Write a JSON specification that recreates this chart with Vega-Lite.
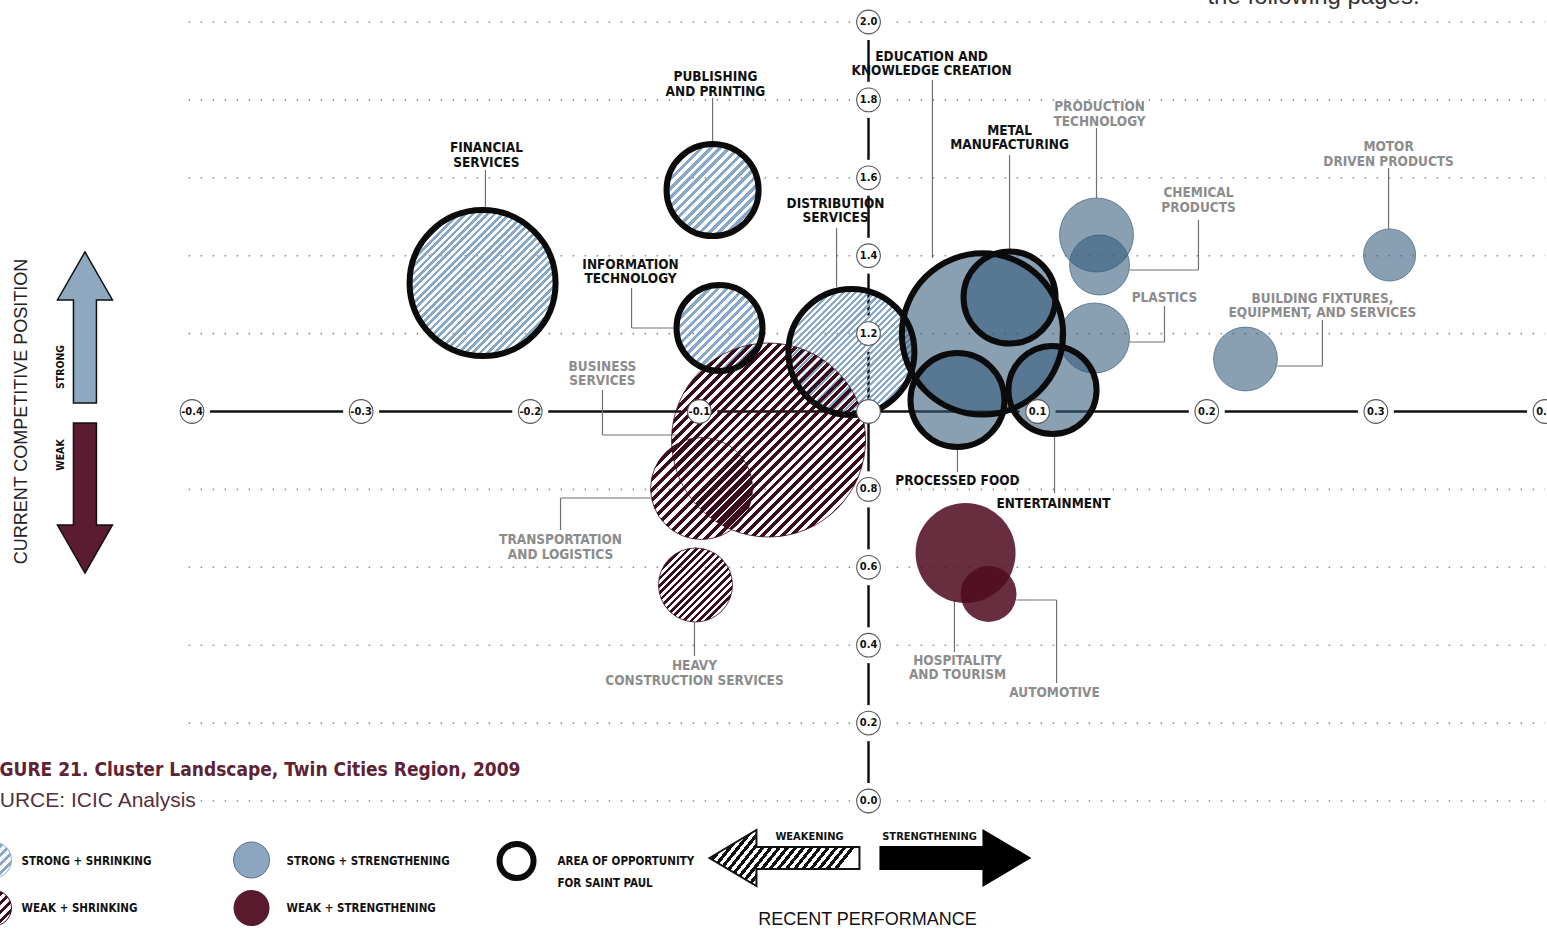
{
"$schema":"https://vega.github.io/schema/vega-lite/v6.json",
"width":1547,"height":930,"autosize":"none","padding":0,"background":"#ffffff",
"config":{"view":{"stroke":null}},
"datasets":{
"clusters":[
{"name":"Financial Services","type":"strong-shrinking","opportunity":"yes","x":-0.2282,"y":1.3299,"jobs":53.3},
{"name":"Publishing and Printing","type":"strong-shrinking","opportunity":"yes","x":-0.0922,"y":1.5687,"jobs":21.2},
{"name":"Information Technology","type":"strong-shrinking","opportunity":"yes","x":-0.0881,"y":1.2144,"jobs":18.5},
{"name":"Distribution Services","type":"strong-shrinking","opportunity":"yes","x":-0.0101,"y":1.1528,"jobs":39.7},
{"name":"Business Services","type":"weak-shrinking","opportunity":"no","x":-0.0591,"y":0.9268,"jobs":94.1},
{"name":"Transportation and Logistics","type":"weak-shrinking","opportunity":"no","x":-0.0987,"y":0.8023,"jobs":26.0},
{"name":"Heavy Construction Services","type":"weak-shrinking","opportunity":"no","x":-0.1023,"y":0.5546,"jobs":13.7},
{"name":"Education and Knowledge Creation","type":"strong-strengthening","opportunity":"yes","x":0.0674,"y":1.199,"jobs":65.0},
{"name":"Metal Manufacturing","type":"strong-strengthening","opportunity":"yes","x":0.0834,"y":1.2927,"jobs":21.2},
{"name":"Processed Food","type":"strong-strengthening","opportunity":"yes","x":0.0526,"y":1.0295,"jobs":22.1},
{"name":"Entertainment","type":"strong-strengthening","opportunity":"yes","x":0.1088,"y":1.0552,"jobs":19.4},
{"name":"Production Technology","type":"strong-strengthening","opportunity":"no","x":0.1348,"y":1.4532,"jobs":13.7},
{"name":"Chemical Products","type":"strong-strengthening","opportunity":"no","x":0.1366,"y":1.3761,"jobs":9.0},
{"name":"Plastics","type":"strong-strengthening","opportunity":"no","x":0.1336,"y":1.1887,"jobs":12.3},
{"name":"Building Fixtures, Equipment, and Services","type":"strong-strengthening","opportunity":"no","x":0.2229,"y":1.1348,"jobs":10.2},
{"name":"Motor Driven Products","type":"strong-strengthening","opportunity":"no","x":0.3081,"y":1.4018,"jobs":6.8},
{"name":"Hospitality and Tourism","type":"weak-strengthening","opportunity":"no","x":0.0574,"y":0.6367,"jobs":25.0},
{"name":"Automotive","type":"weak-strengthening","opportunity":"no","x":0.071,"y":0.5315,"jobs":7.8}
],
"labels":[
{"lines":["FINANCIAL","SERVICES"],"group":"opportunity","x":-0.2259,"y":1.6662},
{"lines":["PUBLISHING","AND PRINTING"],"group":"opportunity","x":-0.0905,"y":1.8485},
{"lines":["EDUCATION AND","KNOWLEDGE CREATION"],"group":"opportunity","x":0.0373,"y":1.8999},
{"lines":["METAL","MANUFACTURING"],"group":"opportunity","x":0.0834,"y":1.7099},
{"lines":["PRODUCTION","TECHNOLOGY"],"group":"other","x":0.1366,"y":1.7715},
{"lines":["MOTOR","DRIVEN PRODUCTS"],"group":"other","x":0.3075,"y":1.6688},
{"lines":["CHEMICAL","PRODUCTS"],"group":"other","x":0.1951,"y":1.5507},
{"lines":["DISTRIBUTION","SERVICES"],"group":"opportunity","x":-0.0195,"y":1.5225},
{"lines":["INFORMATION","TECHNOLOGY"],"group":"opportunity","x":-0.1407,"y":1.3659},
{"lines":["PLASTICS"],"group":"other","x":0.175,"y":1.2811},
{"lines":["BUILDING FIXTURES,","EQUIPMENT, AND SERVICES"],"group":"other","x":0.2684,"y":1.2786},
{"lines":["BUSINESS","SERVICES"],"group":"other","x":-0.1573,"y":1.104},
{"lines":["PROCESSED FOOD"],"group":"opportunity","x":0.0526,"y":0.8113},
{"lines":["ENTERTAINMENT"],"group":"opportunity","x":0.1094,"y":0.7522},
{"lines":["TRANSPORTATION","AND LOGISTICS"],"group":"other","x":-0.1821,"y":0.6598},
{"lines":["HEAVY","CONSTRUCTION SERVICES"],"group":"other","x":-0.1029,"y":0.3363},
{"lines":["HOSPITALITY","AND TOURISM"],"group":"other","x":0.0526,"y":0.3492},
{"lines":["AUTOMOTIVE"],"group":"other","x":0.11,"y":0.267}
],
"leaders":[
{"x":-0.2265,"y":1.62,"x2":-0.2265,"y2":1.525},
{"x":-0.0922,"y":1.8049,"x2":-0.0922,"y2":1.6945},
{"x":0.0378,"y":1.8511,"x2":0.0378,"y2":1.3941},
{"x":0.0834,"y":1.6585,"x2":0.0834,"y2":1.4146},
{"x":0.1348,"y":1.7279,"x2":0.1348,"y2":1.5481},
{"x":0.1951,"y":1.4917,"x2":0.1951,"y2":1.3633},
{"x":0.1951,"y":1.3633,"x2":0.1543,"y2":1.3633},
{"x":0.3075,"y":1.6252,"x2":0.3075,"y2":1.4685},
{"x":-0.0189,"y":1.4711,"x2":-0.0189,"y2":1.3196},
{"x":-0.1401,"y":1.3171,"x2":-0.1401,"y2":1.2144},
{"x":-0.1401,"y":1.2144,"x2":-0.1153,"y2":1.2144},
{"x":0.175,"y":1.2709,"x2":0.175,"y2":1.1784},
{"x":0.175,"y":1.1784,"x2":0.1543,"y2":1.1784},
{"x":0.2684,"y":1.2349,"x2":0.2684,"y2":1.1168},
{"x":0.2684,"y":1.1168,"x2":0.2418,"y2":1.1168},
{"x":-0.1573,"y":1.0552,"x2":-0.1573,"y2":0.9397},
{"x":-0.1573,"y":0.9397,"x2":-0.1118,"y2":0.9397},
{"x":-0.1821,"y":0.6958,"x2":-0.1821,"y2":0.7779},
{"x":-0.1821,"y":0.7779,"x2":-0.1289,"y2":0.7779},
{"x":-0.1029,"y":0.4596,"x2":-0.1029,"y2":0.3723},
{"x":0.0526,"y":0.9012,"x2":0.0526,"y2":0.8447},
{"x":0.11,"y":0.9345,"x2":0.11,"y2":0.7908},
{"x":0.0508,"y":0.516,"x2":0.0508,"y2":0.3825},
{"x":0.1112,"y":0.303,"x2":0.1112,"y2":0.516},
{"x":0.1112,"y":0.516,"x2":0.0875,"y2":0.516}
],
"grid":[
{"x":-0.402,"x2":0.4,"y":0},{"x":-0.402,"x2":0.4,"y":0.2},{"x":-0.402,"x2":0.4,"y":0.4},{"x":-0.402,"x2":0.4,"y":0.6},{"x":-0.402,"x2":0.4,"y":0.8},
{"x":-0.402,"x2":0.4,"y":1.2},{"x":-0.402,"x2":0.4,"y":1.4},{"x":-0.402,"x2":0.4,"y":1.6},{"x":-0.402,"x2":0.4,"y":1.8},{"x":-0.402,"x2":0.4,"y":2.0}
],
"axes":[{"x":-0.4,"x2":0.4,"y":1,"y2":1},{"x":0,"x2":0,"y":0,"y2":2}],
"ticks":[
{"x":-0.4,"y":1,"label":"-0.4"},{"x":-0.3,"y":1,"label":"-0.3"},{"x":-0.2,"y":1,"label":"-0.2"},{"x":-0.1,"y":1,"label":"-0.1"},{"x":0,"y":1,"label":""},
{"x":0.1,"y":1,"label":"0.1"},{"x":0.2,"y":1,"label":"0.2"},{"x":0.3,"y":1,"label":"0.3"},{"x":0.4,"y":1,"label":"0.4"},
{"x":0,"y":0,"label":"0.0"},{"x":0,"y":0.2,"label":"0.2"},{"x":0,"y":0.4,"label":"0.4"},{"x":0,"y":0.6,"label":"0.6"},{"x":0,"y":0.8,"label":"0.8"},
{"x":0,"y":1.2,"label":"1.2"},{"x":0,"y":1.4,"label":"1.4"},{"x":0,"y":1.6,"label":"1.6"},{"x":0,"y":1.8,"label":"1.8"},{"x":0,"y":2,"label":"2.0"}
],
"notes":[
{"text":"FIGURE 21.  Cluster Landscape, Twin Cities Region, 2009","role":"title","x":-0.5245,"y":0.0642},
{"text":"SOURCE: ICIC Analysis","role":"source","x":-0.5316,"y":-0.0154},
{"text":"the following pages.","role":"page","x":0.2004,"y":2.0462},
{"text":"CURRENT COMPETITIVE POSITION","role":"ytitle","x":-0.5008,"y":1.0},
{"text":"STRONG","role":"side","x":-0.4772,"y":1.1143},
{"text":"WEAK","role":"side","x":-0.4772,"y":0.8883},
{"text":"STRONG + SHRINKING","role":"legend","x":-0.5008,"y":-0.1566},
{"text":"WEAK + SHRINKING","role":"legend","x":-0.5008,"y":-0.2773},
{"text":"STRONG + STRENGTHENING","role":"legend","x":-0.3441,"y":-0.1566},
{"text":"WEAK + STRENGTHENING","role":"legend","x":-0.3441,"y":-0.2773},
{"text":"AREA OF OPPORTUNITY","role":"legend","x":-0.1839,"y":-0.1566},
{"text":"FOR SAINT PAUL","role":"legend","x":-0.1839,"y":-0.2131},
{"text":"WEAKENING","role":"arrowlabel","x":-0.0349,"y":-0.0924},
{"text":"STRENGTHENING","role":"arrowlabel","x":0.0361,"y":-0.0924},
{"text":"RECENT PERFORMANCE","role":"xtitle","x":-0.0006,"y":-0.3055}
],
"legend":[
{"kind":"strong-shrinking","x":-0.5174,"y":-0.1515},
{"kind":"weak-shrinking","x":-0.5174,"y":-0.2747},
{"kind":"strong-strengthening","x":-0.3648,"y":-0.1515},
{"kind":"weak-strengthening","x":-0.3648,"y":-0.2747},
{"kind":"opportunity","x":-0.2081,"y":-0.154}
],
"arrows":[
{"kind":"strong","x":-0.4633,"y":1.2157},
{"kind":"weak","x":-0.4633,"y":0.7779},
{"kind":"weakening","x":-0.0497,"y":-0.1463},
{"kind":"strengthening","x":0.0514,"y":-0.1463}
]
},
"encoding":{
"x":{"field":"x","type":"quantitative","scale":{"domain":[-0.51353,0.40118],"nice":false,"zero":false},"axis":null},
"y":{"field":"y","type":"quantitative","scale":{"domain":[-0.33119,2.05648],"nice":false,"zero":false},"axis":null}
},
"layer":[
{"data":{"name":"grid"},"mark":{"type":"rule","stroke":"#8c8c8c","strokeWidth":1.6,"strokeDash":[1.5,10.5]},"encoding":{"x2":{"field":"x2"}}},
{"data":{"name":"axes"},"mark":{"type":"rule","stroke":"#111111","strokeWidth":2.5},"encoding":{"x2":{"field":"x2"},"y2":{"field":"y2"}}},
{"data":{"name":"ticks"},"transform":[{"filter":"datum.label !== ''"}],"mark":{"type":"point","filled":true,"fill":"#ffffff","opacity":1,"strokeWidth":0,"size":1300}},
{"data":{"name":"leaders"},"mark":{"type":"rule","stroke":"#707070","strokeWidth":1.2},"encoding":{"x2":{"field":"x2"},"y2":{"field":"y2"}}},
{"data":{"name":"clusters"},"transform":[{"filter":"datum.type==='strong-shrinking' && datum.jobs>30"}],
"mark":{"type":"point","filled":true,"opacity":1,"strokeWidth":0,"fill":{"gradient":"linear","x1":0,"y1":0,"x2":1,"y2":1,"stops":[{"offset":0,"color":"#87a8c9"},{"offset":0.0125,"color":"#87a8c9"},{"offset":0.0125,"color":"#fff0"},{"offset":0.025,"color":"#fff0"},{"offset":0.025,"color":"#87a8c9"},{"offset":0.0375,"color":"#87a8c9"},{"offset":0.0375,"color":"#fff0"},{"offset":0.05,"color":"#fff0"},{"offset":0.05,"color":"#87a8c9"},{"offset":0.0625,"color":"#87a8c9"},{"offset":0.0625,"color":"#fff0"},{"offset":0.075,"color":"#fff0"},{"offset":0.075,"color":"#87a8c9"},{"offset":0.0875,"color":"#87a8c9"},{"offset":0.0875,"color":"#fff0"},{"offset":0.1,"color":"#fff0"},{"offset":0.1,"color":"#87a8c9"},{"offset":0.1125,"color":"#87a8c9"},{"offset":0.1125,"color":"#fff0"},{"offset":0.125,"color":"#fff0"},{"offset":0.125,"color":"#87a8c9"},{"offset":0.1375,"color":"#87a8c9"},{"offset":0.1375,"color":"#fff0"},{"offset":0.15,"color":"#fff0"},{"offset":0.15,"color":"#87a8c9"},{"offset":0.1625,"color":"#87a8c9"},{"offset":0.1625,"color":"#fff0"},{"offset":0.175,"color":"#fff0"},{"offset":0.175,"color":"#87a8c9"},{"offset":0.1875,"color":"#87a8c9"},{"offset":0.1875,"color":"#fff0"},{"offset":0.2,"color":"#fff0"},{"offset":0.2,"color":"#87a8c9"},{"offset":0.2125,"color":"#87a8c9"},{"offset":0.2125,"color":"#fff0"},{"offset":0.225,"color":"#fff0"},{"offset":0.225,"color":"#87a8c9"},{"offset":0.2375,"color":"#87a8c9"},{"offset":0.2375,"color":"#fff0"},{"offset":0.25,"color":"#fff0"},{"offset":0.25,"color":"#87a8c9"},{"offset":0.2625,"color":"#87a8c9"},{"offset":0.2625,"color":"#fff0"},{"offset":0.275,"color":"#fff0"},{"offset":0.275,"color":"#87a8c9"},{"offset":0.2875,"color":"#87a8c9"},{"offset":0.2875,"color":"#fff0"},{"offset":0.3,"color":"#fff0"},{"offset":0.3,"color":"#87a8c9"},{"offset":0.3125,"color":"#87a8c9"},{"offset":0.3125,"color":"#fff0"},{"offset":0.325,"color":"#fff0"},{"offset":0.325,"color":"#87a8c9"},{"offset":0.3375,"color":"#87a8c9"},{"offset":0.3375,"color":"#fff0"},{"offset":0.35,"color":"#fff0"},{"offset":0.35,"color":"#87a8c9"},{"offset":0.3625,"color":"#87a8c9"},{"offset":0.3625,"color":"#fff0"},{"offset":0.375,"color":"#fff0"},{"offset":0.375,"color":"#87a8c9"},{"offset":0.3875,"color":"#87a8c9"},{"offset":0.3875,"color":"#fff0"},{"offset":0.4,"color":"#fff0"},{"offset":0.4,"color":"#87a8c9"},{"offset":0.4125,"color":"#87a8c9"},{"offset":0.4125,"color":"#fff0"},{"offset":0.425,"color":"#fff0"},{"offset":0.425,"color":"#87a8c9"},{"offset":0.4375,"color":"#87a8c9"},{"offset":0.4375,"color":"#fff0"},{"offset":0.45,"color":"#fff0"},{"offset":0.45,"color":"#87a8c9"},{"offset":0.4625,"color":"#87a8c9"},{"offset":0.4625,"color":"#fff0"},{"offset":0.475,"color":"#fff0"},{"offset":0.475,"color":"#87a8c9"},{"offset":0.4875,"color":"#87a8c9"},{"offset":0.4875,"color":"#fff0"},{"offset":0.5,"color":"#fff0"},{"offset":0.5,"color":"#87a8c9"},{"offset":0.5125,"color":"#87a8c9"},{"offset":0.5125,"color":"#fff0"},{"offset":0.525,"color":"#fff0"},{"offset":0.525,"color":"#87a8c9"},{"offset":0.5375,"color":"#87a8c9"},{"offset":0.5375,"color":"#fff0"},{"offset":0.55,"color":"#fff0"},{"offset":0.55,"color":"#87a8c9"},{"offset":0.5625,"color":"#87a8c9"},{"offset":0.5625,"color":"#fff0"},{"offset":0.575,"color":"#fff0"},{"offset":0.575,"color":"#87a8c9"},{"offset":0.5875,"color":"#87a8c9"},{"offset":0.5875,"color":"#fff0"},{"offset":0.6,"color":"#fff0"},{"offset":0.6,"color":"#87a8c9"},{"offset":0.6125,"color":"#87a8c9"},{"offset":0.6125,"color":"#fff0"},{"offset":0.625,"color":"#fff0"},{"offset":0.625,"color":"#87a8c9"},{"offset":0.6375,"color":"#87a8c9"},{"offset":0.6375,"color":"#fff0"},{"offset":0.65,"color":"#fff0"},{"offset":0.65,"color":"#87a8c9"},{"offset":0.6625,"color":"#87a8c9"},{"offset":0.6625,"color":"#fff0"},{"offset":0.675,"color":"#fff0"},{"offset":0.675,"color":"#87a8c9"},{"offset":0.6875,"color":"#87a8c9"},{"offset":0.6875,"color":"#fff0"},{"offset":0.7,"color":"#fff0"},{"offset":0.7,"color":"#87a8c9"},{"offset":0.7125,"color":"#87a8c9"},{"offset":0.7125,"color":"#fff0"},{"offset":0.725,"color":"#fff0"},{"offset":0.725,"color":"#87a8c9"},{"offset":0.7375,"color":"#87a8c9"},{"offset":0.7375,"color":"#fff0"},{"offset":0.75,"color":"#fff0"},{"offset":0.75,"color":"#87a8c9"},{"offset":0.7625,"color":"#87a8c9"},{"offset":0.7625,"color":"#fff0"},{"offset":0.775,"color":"#fff0"},{"offset":0.775,"color":"#87a8c9"},{"offset":0.7875,"color":"#87a8c9"},{"offset":0.7875,"color":"#fff0"},{"offset":0.8,"color":"#fff0"},{"offset":0.8,"color":"#87a8c9"},{"offset":0.8125,"color":"#87a8c9"},{"offset":0.8125,"color":"#fff0"},{"offset":0.825,"color":"#fff0"},{"offset":0.825,"color":"#87a8c9"},{"offset":0.8375,"color":"#87a8c9"},{"offset":0.8375,"color":"#fff0"},{"offset":0.85,"color":"#fff0"},{"offset":0.85,"color":"#87a8c9"},{"offset":0.8625,"color":"#87a8c9"},{"offset":0.8625,"color":"#fff0"},{"offset":0.875,"color":"#fff0"},{"offset":0.875,"color":"#87a8c9"},{"offset":0.8875,"color":"#87a8c9"},{"offset":0.8875,"color":"#fff0"},{"offset":0.9,"color":"#fff0"},{"offset":0.9,"color":"#87a8c9"},{"offset":0.9125,"color":"#87a8c9"},{"offset":0.9125,"color":"#fff0"},{"offset":0.925,"color":"#fff0"},{"offset":0.925,"color":"#87a8c9"},{"offset":0.9375,"color":"#87a8c9"},{"offset":0.9375,"color":"#fff0"},{"offset":0.95,"color":"#fff0"},{"offset":0.95,"color":"#87a8c9"},{"offset":0.9625,"color":"#87a8c9"},{"offset":0.9625,"color":"#fff0"},{"offset":0.975,"color":"#fff0"},{"offset":0.975,"color":"#87a8c9"},{"offset":0.9875,"color":"#87a8c9"},{"offset":0.9875,"color":"#fff0"},{"offset":1,"color":"#fff0"}]}},
"encoding":{"size":{"field":"jobs","type":"quantitative","scale":{"domain":[0,100],"range":[0,40000]},"legend":null}}},
{"data":{"name":"clusters"},"transform":[{"filter":"datum.type==='strong-shrinking' && datum.jobs<=30"}],
"mark":{"type":"point","filled":true,"opacity":1,"strokeWidth":0,"fill":{"gradient":"linear","x1":0,"y1":0,"x2":1,"y2":1,"stops":[{"offset":0,"color":"#87a8c9"},{"offset":0.025,"color":"#87a8c9"},{"offset":0.025,"color":"#fff0"},{"offset":0.05,"color":"#fff0"},{"offset":0.05,"color":"#87a8c9"},{"offset":0.075,"color":"#87a8c9"},{"offset":0.075,"color":"#fff0"},{"offset":0.1,"color":"#fff0"},{"offset":0.1,"color":"#87a8c9"},{"offset":0.125,"color":"#87a8c9"},{"offset":0.125,"color":"#fff0"},{"offset":0.15,"color":"#fff0"},{"offset":0.15,"color":"#87a8c9"},{"offset":0.175,"color":"#87a8c9"},{"offset":0.175,"color":"#fff0"},{"offset":0.2,"color":"#fff0"},{"offset":0.2,"color":"#87a8c9"},{"offset":0.225,"color":"#87a8c9"},{"offset":0.225,"color":"#fff0"},{"offset":0.25,"color":"#fff0"},{"offset":0.25,"color":"#87a8c9"},{"offset":0.275,"color":"#87a8c9"},{"offset":0.275,"color":"#fff0"},{"offset":0.3,"color":"#fff0"},{"offset":0.3,"color":"#87a8c9"},{"offset":0.325,"color":"#87a8c9"},{"offset":0.325,"color":"#fff0"},{"offset":0.35,"color":"#fff0"},{"offset":0.35,"color":"#87a8c9"},{"offset":0.375,"color":"#87a8c9"},{"offset":0.375,"color":"#fff0"},{"offset":0.4,"color":"#fff0"},{"offset":0.4,"color":"#87a8c9"},{"offset":0.425,"color":"#87a8c9"},{"offset":0.425,"color":"#fff0"},{"offset":0.45,"color":"#fff0"},{"offset":0.45,"color":"#87a8c9"},{"offset":0.475,"color":"#87a8c9"},{"offset":0.475,"color":"#fff0"},{"offset":0.5,"color":"#fff0"},{"offset":0.5,"color":"#87a8c9"},{"offset":0.525,"color":"#87a8c9"},{"offset":0.525,"color":"#fff0"},{"offset":0.55,"color":"#fff0"},{"offset":0.55,"color":"#87a8c9"},{"offset":0.575,"color":"#87a8c9"},{"offset":0.575,"color":"#fff0"},{"offset":0.6,"color":"#fff0"},{"offset":0.6,"color":"#87a8c9"},{"offset":0.625,"color":"#87a8c9"},{"offset":0.625,"color":"#fff0"},{"offset":0.65,"color":"#fff0"},{"offset":0.65,"color":"#87a8c9"},{"offset":0.675,"color":"#87a8c9"},{"offset":0.675,"color":"#fff0"},{"offset":0.7,"color":"#fff0"},{"offset":0.7,"color":"#87a8c9"},{"offset":0.725,"color":"#87a8c9"},{"offset":0.725,"color":"#fff0"},{"offset":0.75,"color":"#fff0"},{"offset":0.75,"color":"#87a8c9"},{"offset":0.775,"color":"#87a8c9"},{"offset":0.775,"color":"#fff0"},{"offset":0.8,"color":"#fff0"},{"offset":0.8,"color":"#87a8c9"},{"offset":0.825,"color":"#87a8c9"},{"offset":0.825,"color":"#fff0"},{"offset":0.85,"color":"#fff0"},{"offset":0.85,"color":"#87a8c9"},{"offset":0.875,"color":"#87a8c9"},{"offset":0.875,"color":"#fff0"},{"offset":0.9,"color":"#fff0"},{"offset":0.9,"color":"#87a8c9"},{"offset":0.925,"color":"#87a8c9"},{"offset":0.925,"color":"#fff0"},{"offset":0.95,"color":"#fff0"},{"offset":0.95,"color":"#87a8c9"},{"offset":0.975,"color":"#87a8c9"},{"offset":0.975,"color":"#fff0"},{"offset":1,"color":"#fff0"}]}},
"encoding":{"size":{"field":"jobs","type":"quantitative","scale":{"domain":[0,100],"range":[0,40000]},"legend":null}}},
{"data":{"name":"clusters"},"transform":[{"filter":"datum.type==='weak-shrinking' && datum.jobs>30"}],
"mark":{"type":"point","filled":true,"opacity":1,"stroke":"#3b0c1c","strokeWidth":1,"strokeOpacity":0.8,"fill":{"gradient":"linear","x1":0,"y1":0,"x2":1,"y2":1,"stops":[{"offset":0,"color":"#3b0c1c"},{"offset":0.0125,"color":"#3b0c1c"},{"offset":0.0125,"color":"#fff0"},{"offset":0.025,"color":"#fff0"},{"offset":0.025,"color":"#3b0c1c"},{"offset":0.0375,"color":"#3b0c1c"},{"offset":0.0375,"color":"#fff0"},{"offset":0.05,"color":"#fff0"},{"offset":0.05,"color":"#3b0c1c"},{"offset":0.0625,"color":"#3b0c1c"},{"offset":0.0625,"color":"#fff0"},{"offset":0.075,"color":"#fff0"},{"offset":0.075,"color":"#3b0c1c"},{"offset":0.0875,"color":"#3b0c1c"},{"offset":0.0875,"color":"#fff0"},{"offset":0.1,"color":"#fff0"},{"offset":0.1,"color":"#3b0c1c"},{"offset":0.1125,"color":"#3b0c1c"},{"offset":0.1125,"color":"#fff0"},{"offset":0.125,"color":"#fff0"},{"offset":0.125,"color":"#3b0c1c"},{"offset":0.1375,"color":"#3b0c1c"},{"offset":0.1375,"color":"#fff0"},{"offset":0.15,"color":"#fff0"},{"offset":0.15,"color":"#3b0c1c"},{"offset":0.1625,"color":"#3b0c1c"},{"offset":0.1625,"color":"#fff0"},{"offset":0.175,"color":"#fff0"},{"offset":0.175,"color":"#3b0c1c"},{"offset":0.1875,"color":"#3b0c1c"},{"offset":0.1875,"color":"#fff0"},{"offset":0.2,"color":"#fff0"},{"offset":0.2,"color":"#3b0c1c"},{"offset":0.2125,"color":"#3b0c1c"},{"offset":0.2125,"color":"#fff0"},{"offset":0.225,"color":"#fff0"},{"offset":0.225,"color":"#3b0c1c"},{"offset":0.2375,"color":"#3b0c1c"},{"offset":0.2375,"color":"#fff0"},{"offset":0.25,"color":"#fff0"},{"offset":0.25,"color":"#3b0c1c"},{"offset":0.2625,"color":"#3b0c1c"},{"offset":0.2625,"color":"#fff0"},{"offset":0.275,"color":"#fff0"},{"offset":0.275,"color":"#3b0c1c"},{"offset":0.2875,"color":"#3b0c1c"},{"offset":0.2875,"color":"#fff0"},{"offset":0.3,"color":"#fff0"},{"offset":0.3,"color":"#3b0c1c"},{"offset":0.3125,"color":"#3b0c1c"},{"offset":0.3125,"color":"#fff0"},{"offset":0.325,"color":"#fff0"},{"offset":0.325,"color":"#3b0c1c"},{"offset":0.3375,"color":"#3b0c1c"},{"offset":0.3375,"color":"#fff0"},{"offset":0.35,"color":"#fff0"},{"offset":0.35,"color":"#3b0c1c"},{"offset":0.3625,"color":"#3b0c1c"},{"offset":0.3625,"color":"#fff0"},{"offset":0.375,"color":"#fff0"},{"offset":0.375,"color":"#3b0c1c"},{"offset":0.3875,"color":"#3b0c1c"},{"offset":0.3875,"color":"#fff0"},{"offset":0.4,"color":"#fff0"},{"offset":0.4,"color":"#3b0c1c"},{"offset":0.4125,"color":"#3b0c1c"},{"offset":0.4125,"color":"#fff0"},{"offset":0.425,"color":"#fff0"},{"offset":0.425,"color":"#3b0c1c"},{"offset":0.4375,"color":"#3b0c1c"},{"offset":0.4375,"color":"#fff0"},{"offset":0.45,"color":"#fff0"},{"offset":0.45,"color":"#3b0c1c"},{"offset":0.4625,"color":"#3b0c1c"},{"offset":0.4625,"color":"#fff0"},{"offset":0.475,"color":"#fff0"},{"offset":0.475,"color":"#3b0c1c"},{"offset":0.4875,"color":"#3b0c1c"},{"offset":0.4875,"color":"#fff0"},{"offset":0.5,"color":"#fff0"},{"offset":0.5,"color":"#3b0c1c"},{"offset":0.5125,"color":"#3b0c1c"},{"offset":0.5125,"color":"#fff0"},{"offset":0.525,"color":"#fff0"},{"offset":0.525,"color":"#3b0c1c"},{"offset":0.5375,"color":"#3b0c1c"},{"offset":0.5375,"color":"#fff0"},{"offset":0.55,"color":"#fff0"},{"offset":0.55,"color":"#3b0c1c"},{"offset":0.5625,"color":"#3b0c1c"},{"offset":0.5625,"color":"#fff0"},{"offset":0.575,"color":"#fff0"},{"offset":0.575,"color":"#3b0c1c"},{"offset":0.5875,"color":"#3b0c1c"},{"offset":0.5875,"color":"#fff0"},{"offset":0.6,"color":"#fff0"},{"offset":0.6,"color":"#3b0c1c"},{"offset":0.6125,"color":"#3b0c1c"},{"offset":0.6125,"color":"#fff0"},{"offset":0.625,"color":"#fff0"},{"offset":0.625,"color":"#3b0c1c"},{"offset":0.6375,"color":"#3b0c1c"},{"offset":0.6375,"color":"#fff0"},{"offset":0.65,"color":"#fff0"},{"offset":0.65,"color":"#3b0c1c"},{"offset":0.6625,"color":"#3b0c1c"},{"offset":0.6625,"color":"#fff0"},{"offset":0.675,"color":"#fff0"},{"offset":0.675,"color":"#3b0c1c"},{"offset":0.6875,"color":"#3b0c1c"},{"offset":0.6875,"color":"#fff0"},{"offset":0.7,"color":"#fff0"},{"offset":0.7,"color":"#3b0c1c"},{"offset":0.7125,"color":"#3b0c1c"},{"offset":0.7125,"color":"#fff0"},{"offset":0.725,"color":"#fff0"},{"offset":0.725,"color":"#3b0c1c"},{"offset":0.7375,"color":"#3b0c1c"},{"offset":0.7375,"color":"#fff0"},{"offset":0.75,"color":"#fff0"},{"offset":0.75,"color":"#3b0c1c"},{"offset":0.7625,"color":"#3b0c1c"},{"offset":0.7625,"color":"#fff0"},{"offset":0.775,"color":"#fff0"},{"offset":0.775,"color":"#3b0c1c"},{"offset":0.7875,"color":"#3b0c1c"},{"offset":0.7875,"color":"#fff0"},{"offset":0.8,"color":"#fff0"},{"offset":0.8,"color":"#3b0c1c"},{"offset":0.8125,"color":"#3b0c1c"},{"offset":0.8125,"color":"#fff0"},{"offset":0.825,"color":"#fff0"},{"offset":0.825,"color":"#3b0c1c"},{"offset":0.8375,"color":"#3b0c1c"},{"offset":0.8375,"color":"#fff0"},{"offset":0.85,"color":"#fff0"},{"offset":0.85,"color":"#3b0c1c"},{"offset":0.8625,"color":"#3b0c1c"},{"offset":0.8625,"color":"#fff0"},{"offset":0.875,"color":"#fff0"},{"offset":0.875,"color":"#3b0c1c"},{"offset":0.8875,"color":"#3b0c1c"},{"offset":0.8875,"color":"#fff0"},{"offset":0.9,"color":"#fff0"},{"offset":0.9,"color":"#3b0c1c"},{"offset":0.9125,"color":"#3b0c1c"},{"offset":0.9125,"color":"#fff0"},{"offset":0.925,"color":"#fff0"},{"offset":0.925,"color":"#3b0c1c"},{"offset":0.9375,"color":"#3b0c1c"},{"offset":0.9375,"color":"#fff0"},{"offset":0.95,"color":"#fff0"},{"offset":0.95,"color":"#3b0c1c"},{"offset":0.9625,"color":"#3b0c1c"},{"offset":0.9625,"color":"#fff0"},{"offset":0.975,"color":"#fff0"},{"offset":0.975,"color":"#3b0c1c"},{"offset":0.9875,"color":"#3b0c1c"},{"offset":0.9875,"color":"#fff0"},{"offset":1,"color":"#fff0"}]}},
"encoding":{"size":{"field":"jobs","type":"quantitative","scale":{"domain":[0,100],"range":[0,40000]},"legend":null}}},
{"data":{"name":"clusters"},"transform":[{"filter":"datum.type==='weak-shrinking' && datum.jobs<=30"}],
"mark":{"type":"point","filled":true,"opacity":1,"stroke":"#3b0c1c","strokeWidth":1,"strokeOpacity":0.8,"fill":{"gradient":"linear","x1":0,"y1":0,"x2":1,"y2":1,"stops":[{"offset":0,"color":"#3b0c1c"},{"offset":0.025,"color":"#3b0c1c"},{"offset":0.025,"color":"#fff0"},{"offset":0.05,"color":"#fff0"},{"offset":0.05,"color":"#3b0c1c"},{"offset":0.075,"color":"#3b0c1c"},{"offset":0.075,"color":"#fff0"},{"offset":0.1,"color":"#fff0"},{"offset":0.1,"color":"#3b0c1c"},{"offset":0.125,"color":"#3b0c1c"},{"offset":0.125,"color":"#fff0"},{"offset":0.15,"color":"#fff0"},{"offset":0.15,"color":"#3b0c1c"},{"offset":0.175,"color":"#3b0c1c"},{"offset":0.175,"color":"#fff0"},{"offset":0.2,"color":"#fff0"},{"offset":0.2,"color":"#3b0c1c"},{"offset":0.225,"color":"#3b0c1c"},{"offset":0.225,"color":"#fff0"},{"offset":0.25,"color":"#fff0"},{"offset":0.25,"color":"#3b0c1c"},{"offset":0.275,"color":"#3b0c1c"},{"offset":0.275,"color":"#fff0"},{"offset":0.3,"color":"#fff0"},{"offset":0.3,"color":"#3b0c1c"},{"offset":0.325,"color":"#3b0c1c"},{"offset":0.325,"color":"#fff0"},{"offset":0.35,"color":"#fff0"},{"offset":0.35,"color":"#3b0c1c"},{"offset":0.375,"color":"#3b0c1c"},{"offset":0.375,"color":"#fff0"},{"offset":0.4,"color":"#fff0"},{"offset":0.4,"color":"#3b0c1c"},{"offset":0.425,"color":"#3b0c1c"},{"offset":0.425,"color":"#fff0"},{"offset":0.45,"color":"#fff0"},{"offset":0.45,"color":"#3b0c1c"},{"offset":0.475,"color":"#3b0c1c"},{"offset":0.475,"color":"#fff0"},{"offset":0.5,"color":"#fff0"},{"offset":0.5,"color":"#3b0c1c"},{"offset":0.525,"color":"#3b0c1c"},{"offset":0.525,"color":"#fff0"},{"offset":0.55,"color":"#fff0"},{"offset":0.55,"color":"#3b0c1c"},{"offset":0.575,"color":"#3b0c1c"},{"offset":0.575,"color":"#fff0"},{"offset":0.6,"color":"#fff0"},{"offset":0.6,"color":"#3b0c1c"},{"offset":0.625,"color":"#3b0c1c"},{"offset":0.625,"color":"#fff0"},{"offset":0.65,"color":"#fff0"},{"offset":0.65,"color":"#3b0c1c"},{"offset":0.675,"color":"#3b0c1c"},{"offset":0.675,"color":"#fff0"},{"offset":0.7,"color":"#fff0"},{"offset":0.7,"color":"#3b0c1c"},{"offset":0.725,"color":"#3b0c1c"},{"offset":0.725,"color":"#fff0"},{"offset":0.75,"color":"#fff0"},{"offset":0.75,"color":"#3b0c1c"},{"offset":0.775,"color":"#3b0c1c"},{"offset":0.775,"color":"#fff0"},{"offset":0.8,"color":"#fff0"},{"offset":0.8,"color":"#3b0c1c"},{"offset":0.825,"color":"#3b0c1c"},{"offset":0.825,"color":"#fff0"},{"offset":0.85,"color":"#fff0"},{"offset":0.85,"color":"#3b0c1c"},{"offset":0.875,"color":"#3b0c1c"},{"offset":0.875,"color":"#fff0"},{"offset":0.9,"color":"#fff0"},{"offset":0.9,"color":"#3b0c1c"},{"offset":0.925,"color":"#3b0c1c"},{"offset":0.925,"color":"#fff0"},{"offset":0.95,"color":"#fff0"},{"offset":0.95,"color":"#3b0c1c"},{"offset":0.975,"color":"#3b0c1c"},{"offset":0.975,"color":"#fff0"},{"offset":1,"color":"#fff0"}]}},
"encoding":{"size":{"field":"jobs","type":"quantitative","scale":{"domain":[0,100],"range":[0,40000]},"legend":null}}},
{"data":{"name":"clusters"},"transform":[{"filter":"datum.type==='strong-strengthening'"}],
"mark":{"type":"point","filled":true,"opacity":1,"fill":"#34597a","fillOpacity":0.58,"stroke":"#2f5275","strokeWidth":1,"strokeOpacity":0.6},
"encoding":{"size":{"field":"jobs","type":"quantitative","scale":{"domain":[0,100],"range":[0,40000]},"legend":null}}},
{"data":{"name":"clusters"},"transform":[{"filter":"datum.type==='weak-strengthening'"}],
"mark":{"type":"point","filled":true,"opacity":1,"fill":"#4f0a20","fillOpacity":0.86,"strokeWidth":0},
"encoding":{"size":{"field":"jobs","type":"quantitative","scale":{"domain":[0,100],"range":[0,40000]},"legend":null}}},
{"data":{"name":"clusters"},"transform":[{"filter":"datum.opportunity==='yes'"}],
"mark":{"type":"point","filled":false,"opacity":1,"stroke":"#0b0b0b","strokeWidth":6},
"encoding":{"size":{"field":"jobs","type":"quantitative","scale":{"domain":[0,100],"range":[0,40000]},"legend":null}}},
{"data":{"name":"ticks"},"mark":{"type":"point","filled":true,"fill":"#ffffff","stroke":"#555555","strokeWidth":1.1,"opacity":1,"size":560}},
{"data":{"name":"ticks"},"mark":{"type":"text","font":"DejaVu Sans Condensed, DejaVu Sans, sans-serif","fontWeight":"bold","fontSize":11,"color":"#111111","baseline":"middle","align":"center"},"encoding":{"text":{"field":"label","type":"nominal"}}},
{"data":{"name":"labels"},"mark":{"type":"text","font":"DejaVu Sans Condensed, DejaVu Sans, sans-serif","fontWeight":"bold","fontSize":13.5,"lineHeight":14.5,"align":"center","baseline":"alphabetic"},
"encoding":{"text":{"field":"lines","type":"nominal"},"color":{"field":"group","type":"nominal","scale":{"domain":["opportunity","other"],"range":["#111111","#8c8c8c"]},"legend":null}}},
{"data":{"name":"legend"},"transform":[{"filter":"datum.kind==='strong-shrinking'"}],"mark":{"type":"point","filled":true,"opacity":1,"size":1296,"stroke":"#87a8c9","strokeWidth":1,"fill":{"gradient":"linear","x1":0,"y1":0,"x2":1,"y2":1,"stops":[{"offset":0,"color":"#87a8c9"},{"offset":0.0625,"color":"#87a8c9"},{"offset":0.0625,"color":"#fff"},{"offset":0.125,"color":"#fff"},{"offset":0.125,"color":"#87a8c9"},{"offset":0.1875,"color":"#87a8c9"},{"offset":0.1875,"color":"#fff"},{"offset":0.25,"color":"#fff"},{"offset":0.25,"color":"#87a8c9"},{"offset":0.3125,"color":"#87a8c9"},{"offset":0.3125,"color":"#fff"},{"offset":0.375,"color":"#fff"},{"offset":0.375,"color":"#87a8c9"},{"offset":0.4375,"color":"#87a8c9"},{"offset":0.4375,"color":"#fff"},{"offset":0.5,"color":"#fff"},{"offset":0.5,"color":"#87a8c9"},{"offset":0.5625,"color":"#87a8c9"},{"offset":0.5625,"color":"#fff"},{"offset":0.625,"color":"#fff"},{"offset":0.625,"color":"#87a8c9"},{"offset":0.6875,"color":"#87a8c9"},{"offset":0.6875,"color":"#fff"},{"offset":0.75,"color":"#fff"},{"offset":0.75,"color":"#87a8c9"},{"offset":0.8125,"color":"#87a8c9"},{"offset":0.8125,"color":"#fff"},{"offset":0.875,"color":"#fff"},{"offset":0.875,"color":"#87a8c9"},{"offset":0.9375,"color":"#87a8c9"},{"offset":0.9375,"color":"#fff"},{"offset":1,"color":"#fff"}]}}},
{"data":{"name":"legend"},"transform":[{"filter":"datum.kind==='weak-shrinking'"}],"mark":{"type":"point","filled":true,"opacity":1,"size":1296,"stroke":"#3b0c1c","strokeWidth":1,"fill":{"gradient":"linear","x1":0,"y1":0,"x2":1,"y2":1,"stops":[{"offset":0,"color":"#3b0c1c"},{"offset":0.0625,"color":"#3b0c1c"},{"offset":0.0625,"color":"#fff"},{"offset":0.125,"color":"#fff"},{"offset":0.125,"color":"#3b0c1c"},{"offset":0.1875,"color":"#3b0c1c"},{"offset":0.1875,"color":"#fff"},{"offset":0.25,"color":"#fff"},{"offset":0.25,"color":"#3b0c1c"},{"offset":0.3125,"color":"#3b0c1c"},{"offset":0.3125,"color":"#fff"},{"offset":0.375,"color":"#fff"},{"offset":0.375,"color":"#3b0c1c"},{"offset":0.4375,"color":"#3b0c1c"},{"offset":0.4375,"color":"#fff"},{"offset":0.5,"color":"#fff"},{"offset":0.5,"color":"#3b0c1c"},{"offset":0.5625,"color":"#3b0c1c"},{"offset":0.5625,"color":"#fff"},{"offset":0.625,"color":"#fff"},{"offset":0.625,"color":"#3b0c1c"},{"offset":0.6875,"color":"#3b0c1c"},{"offset":0.6875,"color":"#fff"},{"offset":0.75,"color":"#fff"},{"offset":0.75,"color":"#3b0c1c"},{"offset":0.8125,"color":"#3b0c1c"},{"offset":0.8125,"color":"#fff"},{"offset":0.875,"color":"#fff"},{"offset":0.875,"color":"#3b0c1c"},{"offset":0.9375,"color":"#3b0c1c"},{"offset":0.9375,"color":"#fff"},{"offset":1,"color":"#fff"}]}}},
{"data":{"name":"legend"},"transform":[{"filter":"datum.kind==='strong-strengthening'"}],"mark":{"type":"point","filled":true,"opacity":1,"size":1296,"fill":"#8ca6bf","stroke":"#56718c","strokeWidth":1}},
{"data":{"name":"legend"},"transform":[{"filter":"datum.kind==='weak-strengthening'"}],"mark":{"type":"point","filled":true,"opacity":1,"size":1296,"fill":"#5a1a2e","strokeWidth":0}},
{"data":{"name":"legend"},"transform":[{"filter":"datum.kind==='opportunity'"}],"mark":{"type":"point","filled":false,"opacity":1,"size":1156,"stroke":"#0b0b0b","strokeWidth":6}},
{"data":{"name":"arrows"},"transform":[{"filter":"datum.kind==='strong'"}],"mark":{"type":"point","filled":true,"opacity":1,"size":4,"shape":"M0,-75.5L27.5,-27.5L11.5,-27.5L11.5,75.5L-11.5,75.5L-11.5,-27.5L-27.5,-27.5Z","fill":"#8ea8c0","stroke":"#111111","strokeWidth":1.5}},
{"data":{"name":"arrows"},"transform":[{"filter":"datum.kind==='weak'"}],"mark":{"type":"point","filled":true,"opacity":1,"size":4,"shape":"M0,75L27.5,27L11.5,27L11.5,-75L-11.5,-75L-11.5,27L-27.5,27Z","fill":"#5b1b30","stroke":"#111111","strokeWidth":1.5}},
{"data":{"name":"arrows"},"transform":[{"filter":"datum.kind==='weakening'"}],"mark":{"type":"point","filled":true,"opacity":1,"size":4,"shape":"M-75,0L-28,-28L-28,-11L75,-11L75,11L-28,11L-28,28Z","stroke":"#111111","strokeWidth":2,"fill":{"gradient":"linear","x1":0,"y1":0,"x2":1,"y2":0.3,"stops":[{"offset":0,"color":"#111"},{"offset":0.025,"color":"#111"},{"offset":0.025,"color":"#fff"},{"offset":0.05,"color":"#fff"},{"offset":0.05,"color":"#111"},{"offset":0.075,"color":"#111"},{"offset":0.075,"color":"#fff"},{"offset":0.1,"color":"#fff"},{"offset":0.1,"color":"#111"},{"offset":0.125,"color":"#111"},{"offset":0.125,"color":"#fff"},{"offset":0.15,"color":"#fff"},{"offset":0.15,"color":"#111"},{"offset":0.175,"color":"#111"},{"offset":0.175,"color":"#fff"},{"offset":0.2,"color":"#fff"},{"offset":0.2,"color":"#111"},{"offset":0.225,"color":"#111"},{"offset":0.225,"color":"#fff"},{"offset":0.25,"color":"#fff"},{"offset":0.25,"color":"#111"},{"offset":0.275,"color":"#111"},{"offset":0.275,"color":"#fff"},{"offset":0.3,"color":"#fff"},{"offset":0.3,"color":"#111"},{"offset":0.325,"color":"#111"},{"offset":0.325,"color":"#fff"},{"offset":0.35,"color":"#fff"},{"offset":0.35,"color":"#111"},{"offset":0.375,"color":"#111"},{"offset":0.375,"color":"#fff"},{"offset":0.4,"color":"#fff"},{"offset":0.4,"color":"#111"},{"offset":0.425,"color":"#111"},{"offset":0.425,"color":"#fff"},{"offset":0.45,"color":"#fff"},{"offset":0.45,"color":"#111"},{"offset":0.475,"color":"#111"},{"offset":0.475,"color":"#fff"},{"offset":0.5,"color":"#fff"},{"offset":0.5,"color":"#111"},{"offset":0.525,"color":"#111"},{"offset":0.525,"color":"#fff"},{"offset":0.55,"color":"#fff"},{"offset":0.55,"color":"#111"},{"offset":0.575,"color":"#111"},{"offset":0.575,"color":"#fff"},{"offset":0.6,"color":"#fff"},{"offset":0.6,"color":"#111"},{"offset":0.625,"color":"#111"},{"offset":0.625,"color":"#fff"},{"offset":0.65,"color":"#fff"},{"offset":0.65,"color":"#111"},{"offset":0.675,"color":"#111"},{"offset":0.675,"color":"#fff"},{"offset":0.7,"color":"#fff"},{"offset":0.7,"color":"#111"},{"offset":0.725,"color":"#111"},{"offset":0.725,"color":"#fff"},{"offset":0.75,"color":"#fff"},{"offset":0.75,"color":"#111"},{"offset":0.775,"color":"#111"},{"offset":0.775,"color":"#fff"},{"offset":0.8,"color":"#fff"},{"offset":0.8,"color":"#111"},{"offset":0.825,"color":"#111"},{"offset":0.825,"color":"#fff"},{"offset":0.85,"color":"#fff"},{"offset":0.85,"color":"#111"},{"offset":0.875,"color":"#111"},{"offset":0.875,"color":"#fff"},{"offset":0.9,"color":"#fff"},{"offset":0.9,"color":"#111"},{"offset":0.925,"color":"#111"},{"offset":0.925,"color":"#fff"},{"offset":0.95,"color":"#fff"},{"offset":0.95,"color":"#111"},{"offset":0.975,"color":"#111"},{"offset":0.975,"color":"#fff"},{"offset":1,"color":"#fff"}]}}},
{"data":{"name":"arrows"},"transform":[{"filter":"datum.kind==='strengthening'"}],"mark":{"type":"point","filled":true,"opacity":1,"size":4,"shape":"M-76,-12L27,-12L27,-29L76,0L27,29L27,12L-76,12Z","fill":"#000000","strokeWidth":0}},
{"data":{"name":"notes"},"transform":[{"filter":"datum.role==='title'"}],"mark":{"type":"text","align":"left","baseline":"alphabetic","font":"DejaVu Sans Condensed, DejaVu Sans, sans-serif","fontWeight":"bold","fontSize":19,"color":"#5e2336"},"encoding":{"text":{"field":"text","type":"nominal"}}},
{"data":{"name":"notes"},"transform":[{"filter":"datum.role==='source'"}],"mark":{"type":"text","align":"left","baseline":"alphabetic","font":"Liberation Sans, Arial, sans-serif","fontSize":21,"color":"#54303d"},"encoding":{"text":{"field":"text","type":"nominal"}}},
{"data":{"name":"notes"},"transform":[{"filter":"datum.role==='page'"}],"mark":{"type":"text","align":"left","baseline":"alphabetic","font":"Liberation Sans, Arial, sans-serif","fontSize":24,"color":"#333333"},"encoding":{"text":{"field":"text","type":"nominal"}}},
{"data":{"name":"notes"},"transform":[{"filter":"datum.role==='ytitle'"}],"mark":{"type":"text","align":"center","baseline":"middle","angle":270,"font":"Liberation Sans, Arial, sans-serif","fontSize":18,"color":"#222222"},"encoding":{"text":{"field":"text","type":"nominal"}}},
{"data":{"name":"notes"},"transform":[{"filter":"datum.role==='side'"}],"mark":{"type":"text","align":"center","baseline":"middle","angle":270,"font":"DejaVu Sans Condensed, DejaVu Sans, sans-serif","fontWeight":"bold","fontSize":10.5,"color":"#111111"},"encoding":{"text":{"field":"text","type":"nominal"}}},
{"data":{"name":"notes"},"transform":[{"filter":"datum.role==='legend'"}],"mark":{"type":"text","align":"left","baseline":"middle","font":"DejaVu Sans Condensed, DejaVu Sans, sans-serif","fontWeight":"bold","fontSize":11.5,"color":"#111111"},"encoding":{"text":{"field":"text","type":"nominal"}}},
{"data":{"name":"notes"},"transform":[{"filter":"datum.role==='arrowlabel'"}],"mark":{"type":"text","align":"center","baseline":"middle","font":"DejaVu Sans Condensed, DejaVu Sans, sans-serif","fontWeight":"bold","fontSize":11,"color":"#111111"},"encoding":{"text":{"field":"text","type":"nominal"}}},
{"data":{"name":"notes"},"transform":[{"filter":"datum.role==='xtitle'"}],"mark":{"type":"text","align":"center","baseline":"middle","font":"Liberation Sans, Arial, sans-serif","fontSize":18,"color":"#111111"},"encoding":{"text":{"field":"text","type":"nominal"}}}
]
}
